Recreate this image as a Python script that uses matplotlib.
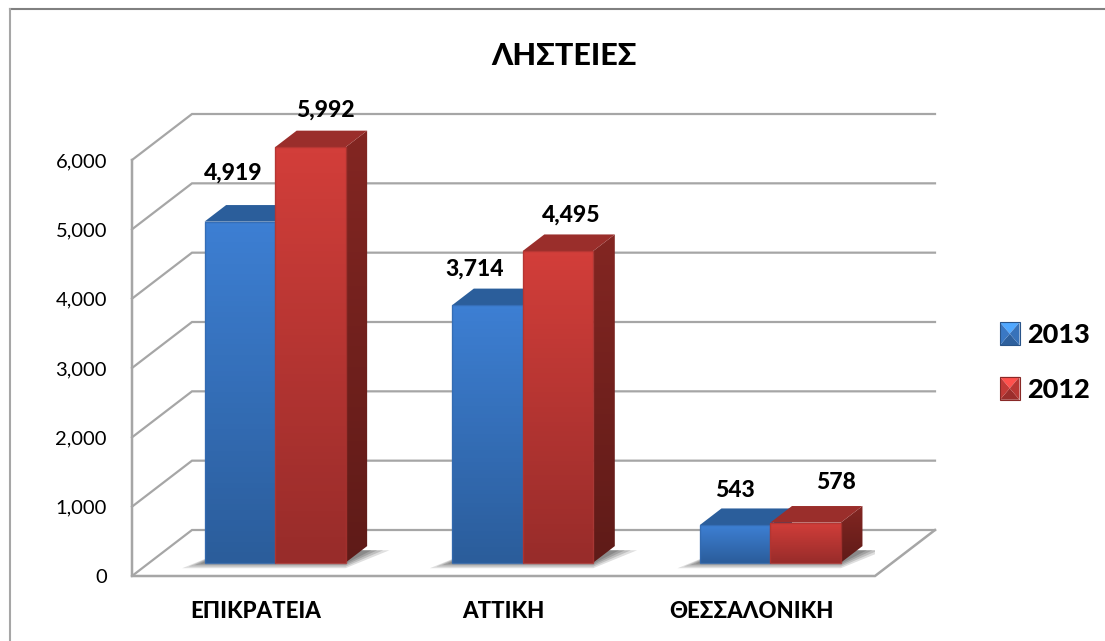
import numpy as np
import matplotlib
matplotlib.use("Agg")
import matplotlib.pyplot as plt
from matplotlib.colors import LinearSegmentedColormap
from matplotlib.legend_handler import HandlerBase
from matplotlib.lines import Line2D
from matplotlib.patches import Patch, Polygon, Rectangle

plt.rcParams['font.family'] = ['Lato', 'Open Sans', 'DejaVu Sans']

# data
categories = ['ΕΠΙΚΡΑΤΕΙΑ', 'ΑΤΤΙΚΗ', 'ΘΕΣΣΑΛΟΝΙΚΗ']
values_2013 = [4919, 3714, 543]
values_2012 = [5992, 4495, 578]
y_ticks = [0, 1000, 2000, 3000, 4000, 5000, 6000]
title = 'ΛΗΣΤΕΙΕΣ'

# label nudges in pixels, from the top of each bar
nudge_2013 = [(-7, 48), (-13, 36), (0, 35)]
nudge_2012 = [(15, 37), (13, 36), (30, 40)]

W, H = 1105, 641
BOLD = 'black'
fig = plt.figure(figsize=(W / 100, H / 100), dpi=100, facecolor='white')
ax = fig.add_axes([132 / W, 1 - 576 / H, 743 / W, 416 / H])
ax.set_xlim(0, 3)
ax.set_ylim(0, 6000)
ax.autoscale(False)
ax.patch.set_alpha(0)
for s in ax.spines.values():
    s.set_visible(False)

# depth of the fake 3d box in data units
DX = 60 / 743 * 3
DY = 46 / 416 * 6000
BAR_W = 70.5 / 743 * 3
Z0, Z1 = 0.32, 0.68
ZY0, ZY1 = 0.29, 0.65
GRID = '#a6a6a6'


def gradient(verts, c_top, c_bottom, z):
    verts = np.array(verts)
    cmap = LinearSegmentedColormap.from_list('g', [c_bottom, c_top])
    im = ax.imshow(np.linspace(1, 0, 64).reshape(-1, 1), cmap=cmap, aspect='auto', zorder=z,
                   extent=[verts[:, 0].min(), verts[:, 0].max(), verts[:, 1].min(), verts[:, 1].max()])
    poly = Polygon(verts, transform=ax.transData, fc='none', ec='none', clip_on=False)
    ax.add_patch(poly)
    im.set_clip_box(fig.bbox)
    im.set_clip_path(poly)


def shadow(x0, x1, z):
    # soft grey patch on the floor, stacked to look blurred
    for grow, a in [(1.0, 0.2), (0.72, 0.25), (0.45, 0.3), (0.2, 0.35)]:
        pad = 0.09 * grow
        verts = [(x0 + Z0 * DX - pad, ZY0 * DY - 80 * grow),
                 (x1 + Z0 * DX, ZY0 * DY - 80 * grow),
                 (x1 + Z1 * DX + pad, ZY1 * DY - 60),
                 (x0 + Z1 * DX, ZY1 * DY - 60)]
        ax.add_patch(Polygon(verts, fc='#606060', ec='none', alpha=a, zorder=z))


def bar3d(x0, value, colors, z):
    fx0 = x0 + Z0 * DX
    fx1 = fx0 + BAR_W
    b = ZY0 * DY
    t = b + value
    ox = (Z1 - Z0) * DX
    oy = (ZY1 - ZY0) * DY
    gradient([(fx0, b), (fx1, b), (fx1, t), (fx0, t)], colors['top'], colors['bottom'], z + 0.2)
    gradient([(fx1, b), (fx1 + ox, b + oy), (fx1 + ox, t + oy), (fx1, t)],
             colors['side_top'], colors['side_bottom'], z + 0.1)
    ax.add_patch(Polygon([(fx0, t), (fx1, t), (fx1 + ox, t + oy), (fx0 + ox, t + oy)],
                         fc=colors['cap'], ec='none', zorder=z + 0.1, clip_on=False))
    ax.add_patch(Rectangle((fx0, b), BAR_W, value, fc='none', ec=colors['edge'], lw=1.0, alpha=0.8,
                           zorder=z + 0.3, clip_on=False))


BLUE = dict(top='#3d7fd3', bottom='#2b5d9b', side_top='#24507f', side_bottom='#1c3f66',
            cap='#2b5e9b', edge='#336ab0')
RED = dict(top='#d23e3a', bottom='#982c2a', side_top='#832622', side_bottom='#5f1b18',
           cap='#9a2e2b', edge='#b03532')

# walls and floor
for v in y_ticks:
    ax.plot([0, DX, 3 + DX], [v, v + DY, v + DY], color=GRID, lw=1.6, zorder=1, clip_on=False,
            solid_joinstyle='miter')
ax.plot([0, 0, 3, 3 + DX], [6000, 0, 0, DY], color=GRID, lw=1.8, zorder=1, clip_on=False,
        solid_joinstyle='miter')

# bars
for i in range(len(categories)):
    shadow(i + 0.5 - BAR_W, i + 0.5 + BAR_W, 2)
    bar3d(i + 0.5 - BAR_W, values_2013[i], BLUE, 3 + i)
    bar3d(i + 0.5, values_2012[i], RED, 3.5 + i)

# value labels
for i in range(len(categories)):
    for x0, val, nudge in [(i + 0.5 - BAR_W, values_2013[i], nudge_2013[i]),
                           (i + 0.5, values_2012[i], nudge_2012[i])]:
        ax.annotate(f'{val:,}', (x0 + BAR_W / 2 + Z0 * DX, val + ZY0 * DY), xytext=nudge,
                    textcoords='offset pixels', ha='center', va='center', fontsize=16.5,
                    fontweight=BOLD, color='black', zorder=10, annotation_clip=False)

# axes text
ax.set_yticks(y_ticks)
ax.set_yticklabels([f'{v:,}' for v in y_ticks], fontsize=14.5)
ax.tick_params(axis='y', length=0, pad=18)
ax.set_xticks([i + 0.5 for i in range(len(categories))])
ax.set_xticklabels(categories, fontsize=16, fontweight=BOLD)
ax.tick_params(axis='x', length=0, pad=18)
fig.text(564 / W, 1 - 56 / H, title, ha='center', va='center', fontsize=22, fontweight=BOLD)


class BevelHandler(HandlerBase):
    def create_artists(self, legend, orig, xd, yd, w, h, fontsize, trans):
        c = orig.get_facecolor()
        x0, x1, y0, y1 = -xd, -xd + w, -yd, -yd + h
        mx, my = (x0 + x1) / 2, (y0 + y1) / 2
        faces = [([(x0, y1), (x1, y1), (mx, my)], 1.4),
                 ([(x0, y0), (x1, y0), (mx, my)], 0.8),
                 ([(x0, y0), (x0, y1), (mx, my)], 1.0),
                 ([(x1, y0), (x1, y1), (mx, my)], 0.95)]
        out = []
        for verts, k in faces:
            col = np.clip(np.array(c[:3]) * k, 0, 1)
            out.append(Polygon(verts, fc=col, ec='none', transform=trans))
        out.append(Rectangle((x0, y0), w, h, fc='none', ec=np.array(c[:3]) * 0.7, lw=0.8, transform=trans))
        return out


handles = [Patch(facecolor='#3a78c4', label='2013'), Patch(facecolor='#c23a37', label='2012')]
fig.legend(handles=handles, handler_map={Patch: BevelHandler()}, loc='center left',
           bbox_to_anchor=(1000 / W, 1 - 362 / H), frameon=False, prop={'size': 19.5, 'weight': BOLD},
           handlelength=0.72, handleheight=0.92, handletextpad=0.3, labelspacing=1.1, borderpad=0, borderaxespad=0)

# outer chart frame, only top and left show
fig.add_artist(Line2D([9.5 / W, 1], [1 - 9 / H, 1 - 9 / H], color='#808080', lw=1.5))
fig.add_artist(Line2D([9.5 / W, 9.5 / W], [1 - 9 / H, 0], color='#a6a6a6', lw=1.5))

fig.savefig('out.png', dpi=100)
